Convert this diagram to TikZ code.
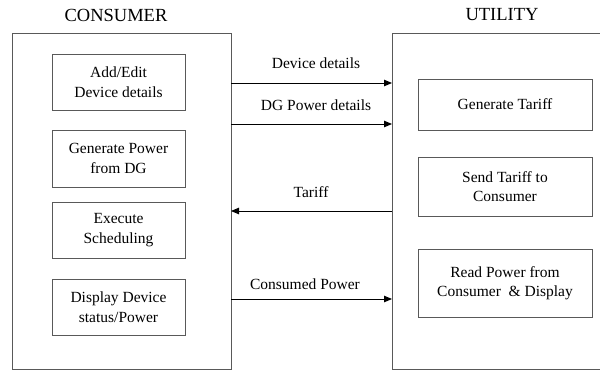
\documentclass[tikz,border=0pt]{standalone}
\usepackage{fontspec}
\setmainfont{Liberation Serif}
\usetikzlibrary{arrows.meta}
\begin{document}
\begin{tikzpicture}[x=1pt,y=-1pt,
  outerbox/.style={draw=black!65,line width=0.9pt,inner sep=0pt,outer sep=0pt},
  innerbox/.style={draw=black!65,line width=0.9pt,inner sep=0pt,outer sep=0pt,align=center,font=\fontsize{15.5}{19.5}\selectfont},
  lbl/.style={font=\fontsize{15.5}{18}\selectfont,inner sep=0pt},
  ttl/.style={font=\fontsize{18.5}{21}\selectfont,inner sep=0pt},
  arr/.style={draw=black,line width=0.9pt,-{Triangle[length=8pt,width=6.5pt]}}]
\useasboundingbox (0,0) rectangle (600,370);
% titles
\node[ttl] (tcons) at (116,15) {CONSUMER};
\node[ttl] (tutil) at (502,15) {UTILITY};
% outer boxes
\node[outerbox,minimum width=219pt,minimum height=336pt] (cons) at (121.5,201) {};
\node[outerbox,minimum width=212pt,minimum height=336pt] (util) at (498,201) {};
% consumer inner boxes
\node[innerbox,minimum width=133pt,minimum height=56pt] (c1) at (118.5,82) {Add/Edit\\Device details};
\node[innerbox,minimum width=133pt,minimum height=57pt] (c2) at (118.5,158.5) {Generate Power\\from DG};
\node[innerbox,minimum width=133pt,minimum height=56pt] (c3) at (118.5,230) {Execute\\Scheduling};
\node[innerbox,minimum width=133pt,minimum height=56pt] (c4) at (118.5,307) {Display Device\\status/Power};
% utility inner boxes
\node[innerbox,minimum width=174pt,minimum height=51pt] (u1) at (505,104.5) {Generate Tariff};
\node[innerbox,minimum width=174pt,minimum height=59pt] (u2) at (505,186.5) {Send Tariff to\\Consumer};
\node[innerbox,minimum width=174pt,minimum height=68pt] (u3) at (505,283) {Read Power from\\Consumer\ \ \& Display};
% arrow end points
\coordinate (a1) at (231,83);  \coordinate (b1) at (392,83);
\coordinate (a2) at (231,124); \coordinate (b2) at (392,124);
\coordinate (a3) at (231,211); \coordinate (b3) at (392,211);
\coordinate (a4) at (231,299); \coordinate (b4) at (392,299);
\draw[arr] (a1) -- (b1);
\draw[arr] (a2) -- (b2);
\draw[arr] (b3) -- (a3);
\draw[arr] (a4) -- (b4);
% labels
\node[lbl] (l1) at (316,63) {Device details};
\node[lbl] (l2) at (316,105) {DG Power details};
\node[lbl] (l3) at (311,192) {Tariff};
\node[lbl] (l4) at (305,284) {Consumed Power};
\end{tikzpicture}
\end{document}
